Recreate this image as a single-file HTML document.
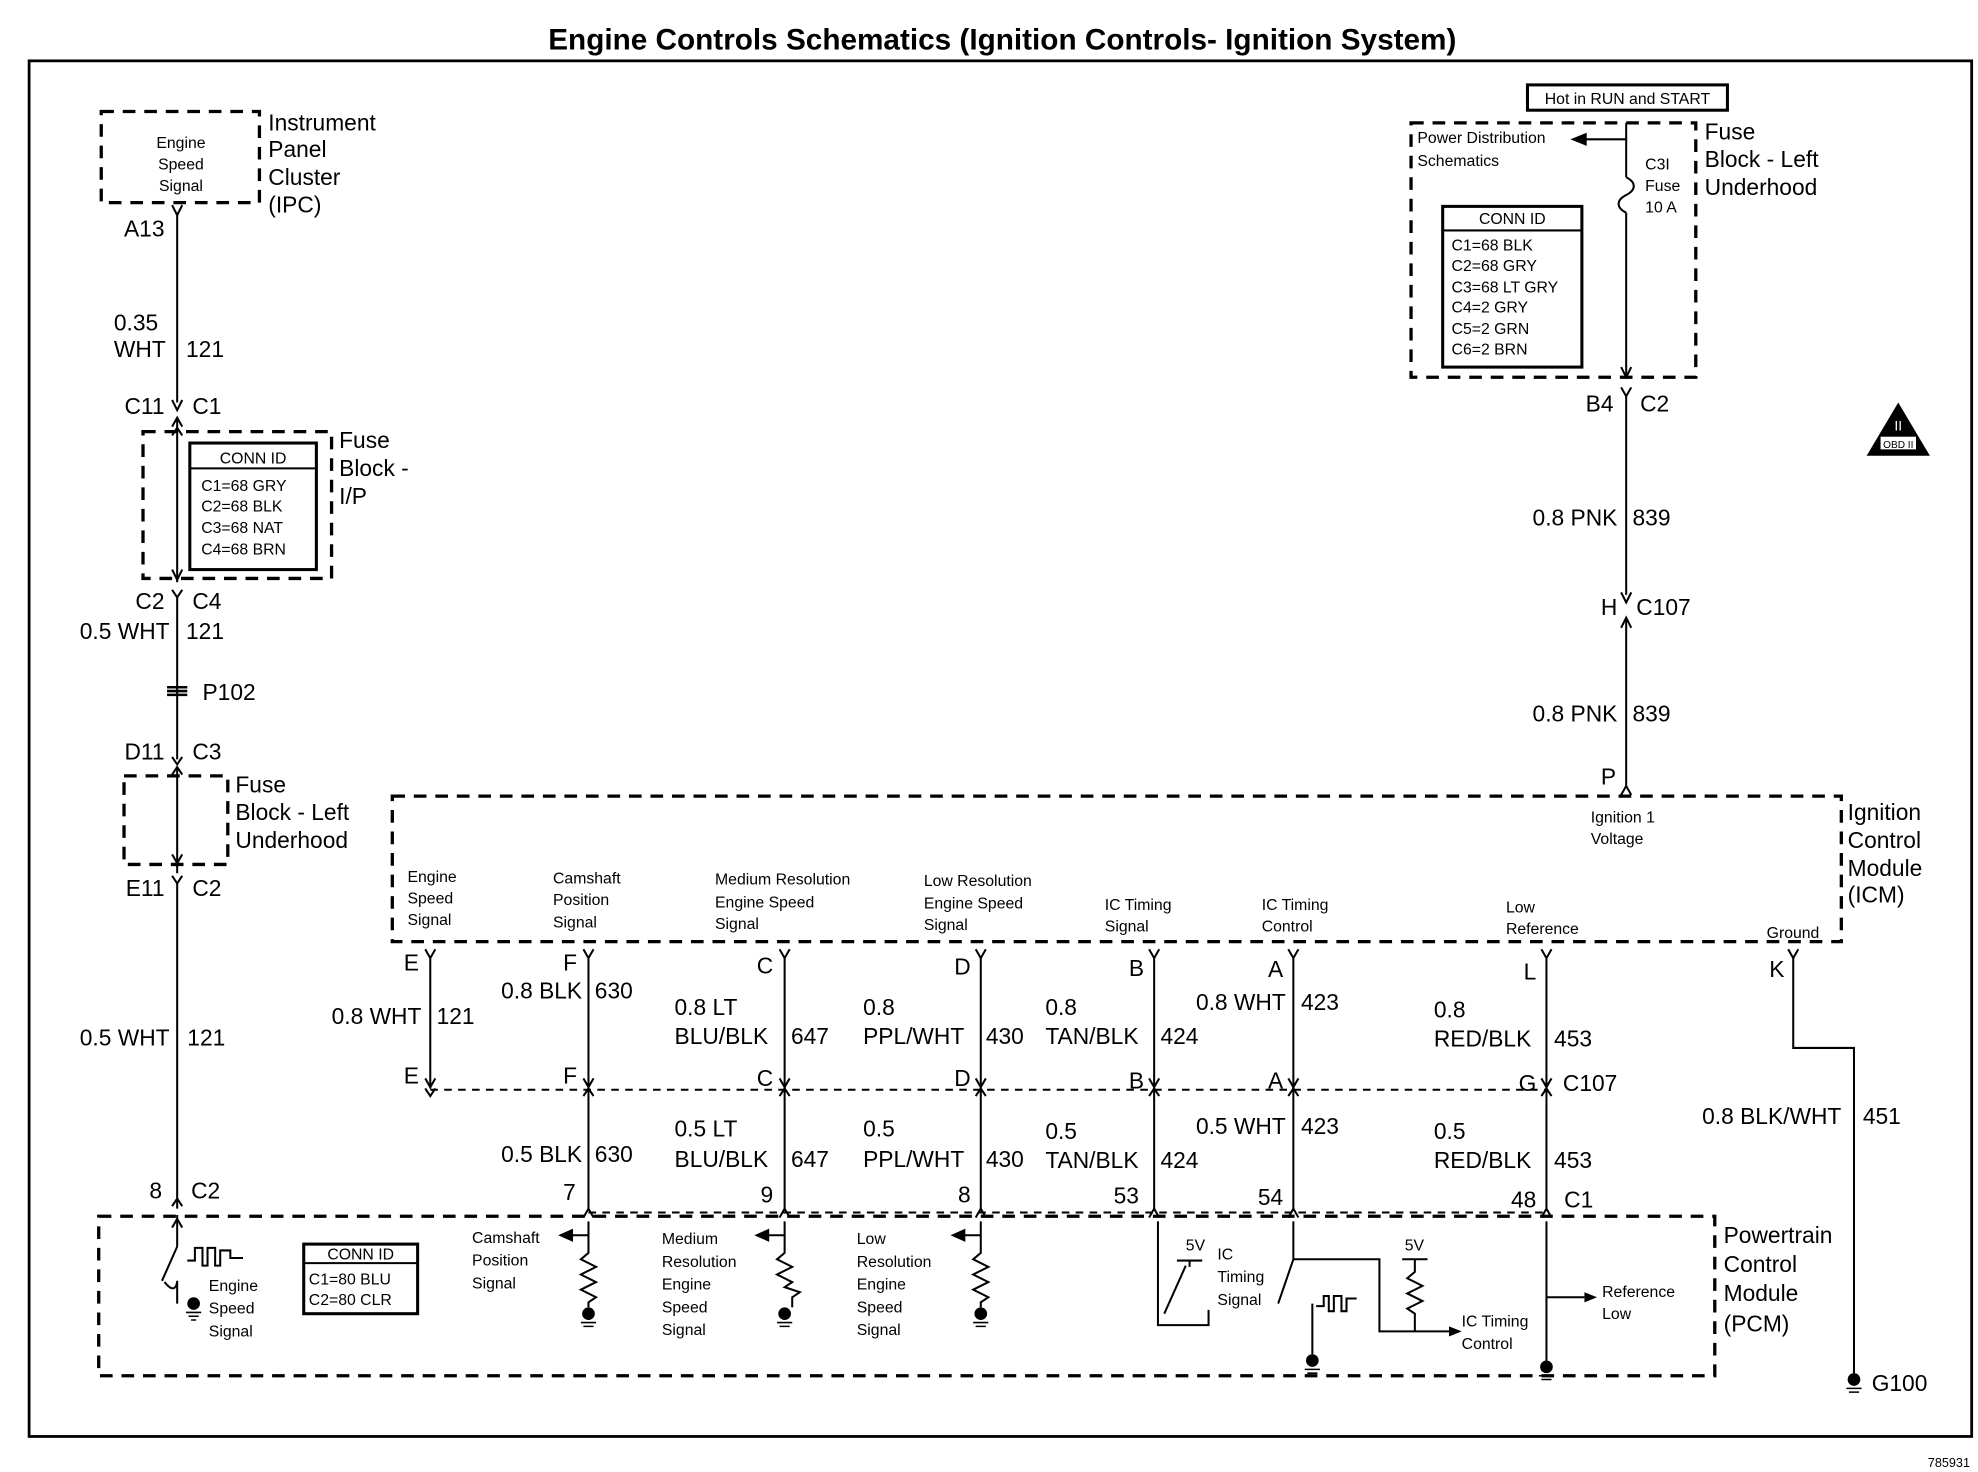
<!DOCTYPE html>
<html><head><meta charset="utf-8"><style>
html,body{margin:0;padding:0;background:#fff;}
svg{display:block}
text{font-family:"Liberation Sans",Arial,sans-serif;fill:#000;}
.L{font-size:18px;}
.S{font-size:12.5px;}
.T{font-size:23.5px;font-weight:bold;}
.r{text-anchor:end}
.m{text-anchor:middle}
</style></head><body>
<svg width="1978" height="1472" viewBox="0 0 1563 1163" xmlns="http://www.w3.org/2000/svg">
<g fill="none" stroke="#000" stroke-width="1.6">
<rect x="23" y="48" width="1535" height="1087" stroke-width="2.2"/>
<g stroke-dasharray="10 7" stroke-width="2.6">
<rect x="80" y="88" width="125" height="72"/>
<rect x="113" y="341" width="149" height="116"/>
<rect x="98" y="613" width="82" height="70"/>
<rect x="1115" y="97" width="225" height="201"/>
<rect x="310" y="629" width="1145" height="115"/>
<rect x="78" y="961" width="1277" height="126"/>
</g>
<g stroke-dasharray="6 5" stroke-width="1.6">
<line x1="340" y1="861" x2="1222" y2="861"/>
<line x1="465" y1="958" x2="1222" y2="958"/>
</g>
<rect x="150" y="350" width="100" height="100" stroke-width="2.4"/>
<line x1="150" y1="370" x2="250" y2="370"/>
<rect x="1140" y="163" width="110" height="127" stroke-width="2.4"/>
<line x1="1140" y1="182" x2="1250" y2="182"/>
<rect x="240" y="983" width="90" height="55" stroke-width="2.4"/>
<line x1="240" y1="998" x2="330" y2="998"/>
<rect x="1207" y="67" width="158" height="20" stroke-width="2.4"/>
<line x1="140" y1="168" x2="140" y2="318"/>
<path d="M136 162 L140 170 L144 162 M136 316 L140 324 L144 316 M136 337 L140 330 L144 337"/>
<line x1="140" y1="332" x2="140" y2="460"/>
<path d="M136 344 L140 338 L144 344 M136 450 L140 458 L144 450 M136 466 L140 472 L144 466"/>
<line x1="140" y1="472" x2="140" y2="600"/>
<path d="M132 543 h16 M132 546 h16 M132 549 h16" stroke-width="2"/>
<path d="M136 598 L140 604 L144 598 M136 612 L140 606 L144 612"/>
<line x1="140" y1="606" x2="140" y2="690"/>
<path d="M136 675 L140 682 L144 675 M136 692 L140 698 L144 692"/>
<line x1="140" y1="698" x2="140" y2="955"/>
<path d="M136 953 L140 947 L144 953"/>
<line x1="140" y1="960" x2="140" y2="985"/>
<path d="M136 970 L140 963 L144 970"/>
<line x1="1285" y1="97" x2="1285" y2="140"/>
<line x1="1285" y1="110" x2="1250" y2="110"/>
<path d="M1243 110 l10 -4 v8 z" fill="#000"/>
<path d="M1285 140 c8 4 8 10 0 14 c-8 4 -8 10 0 14"/>
<line x1="1285" y1="168" x2="1285" y2="298"/>
<path d="M1281 290 L1285 298 L1289 290 M1281 306 L1285 313 L1289 306"/>
<line x1="1285" y1="313" x2="1285" y2="470"/>
<path d="M1281 468 L1285 476 L1289 468 M1281 496 L1285 488 L1289 496"/>
<line x1="1285" y1="488" x2="1285" y2="622"/>
<path d="M1281 628 L1285 621 L1289 628"/>
<g>
<path d="M336 750 L340 757 L344 750 M461 750 L465 757 L469 750 M616 750 L620 757 L624 750 M771 750 L775 757 L779 750 M908 750 L912 757 L916 750 M1018 750 L1022 757 L1026 750 M1218 750 L1222 757 L1226 750 M1413 750 L1417 757 L1421 750"/>
<line x1="340" y1="757" x2="340" y2="860"/>
<line x1="465" y1="757" x2="465" y2="955"/>
<line x1="620" y1="757" x2="620" y2="955"/>
<line x1="775" y1="757" x2="775" y2="955"/>
<line x1="912" y1="757" x2="912" y2="955"/>
<line x1="1022" y1="757" x2="1022" y2="955"/>
<line x1="1222" y1="757" x2="1222" y2="955"/>
<path d="M1417 757 V828 H1465 V1085"/>
<path d="M336 852 L340 859 L344 852 M461 852 L465 859 L469 852 M616 852 L620 859 L624 852 M771 852 L775 859 L779 852 M908 852 L912 859 L916 852 M1018 852 L1022 859 L1026 852 M1218 852 L1222 859 L1226 852"/>
<path d="M336 860 L340 866 L344 860 M461 866 L465 860 L469 866 M616 866 L620 860 L624 866 M771 866 L775 860 L779 866 M908 866 L912 860 L916 866 M1018 866 L1022 860 L1026 866 M1218 866 L1222 860 L1226 866"/>
<path d="M461 962 L465 955 L469 962 M616 962 L620 955 L624 962 M771 962 L775 955 L779 962 M908 962 L912 955 L916 962 M1018 962 L1022 955 L1026 962 M1218 962 L1222 955 L1226 962"/>
</g>
<path d="M465 965 V990 l-6 5 l12 6 l-12 6 l12 6 l-12 6 l12 6 l-6 4 V1033"/>
<path d="M620 965 V990 l-6 5 l12 6 l-12 6 l12 6 l-6 4 l12 4 l-6 4 V1033"/>
<path d="M775 965 V990 l-6 5 l12 6 l-12 6 l12 6 l-12 6 l12 6 l-6 4 V1033"/>
<line x1="465" y1="976" x2="450" y2="976"/><path d="M443 976 l9 -4 v8z" fill="#000"/>
<line x1="620" y1="976" x2="605" y2="976"/><path d="M598 976 l9 -4 v8z" fill="#000"/>
<line x1="775" y1="976" x2="760" y2="976"/><path d="M753 976 l9 -4 v8z" fill="#000"/>
<path d="M140 985 L128 1012 M140 1012 V1030 M130 1013 q8 10 10 0" />
<path d="M148 996 h6 v-10 h6 v14 h4 v-14 h6 v14 h4 v-12 h8 v6 h10"/>
<path d="M915 965 V1047 H955 V1035 M920 1038 L937 1000 M930 996 h20 M940 996 v5"/>
<path d="M1022 965 V995 L1010 1030 M1022 995 H1090 V1052 H1145 M1118 995 v10 l-6 5 l12 6 l-12 6 l12 6 l-12 6 l6 4 v14 M1108 995 h20 M1037 1030 v40 M1040 1032 h6 v-8 h4 v12 h4 v-12 h6 v12 h4 v-10 h8"/>
<path d="M1222 965 V1075 M1222 1025 H1252"/>
</g>
<g fill="#000">
<path d="M1145 1048 l10 4 l-10 4z"/><path d="M1252 1021 l10 4 l-10 4z"/>
<circle cx="153" cy="1030" r="5"/><circle cx="465" cy="1038" r="5"/><circle cx="620" cy="1038" r="5"/><circle cx="775" cy="1038" r="5"/>
<circle cx="1037" cy="1075" r="5"/><circle cx="1222" cy="1080" r="5"/><circle cx="1465" cy="1090" r="5"/>
<path d="M1475 360 L1500 318 L1525 360 Z"/>
</g>
<g stroke="#000" stroke-width="1.2">
<path d="M147 1037 h12 M149 1040 h8 M151 1043 h4 M459 1045 h12 M461 1048 h8 M614 1045 h12 M616 1048 h8 M769 1045 h12 M771 1048 h8 M1031 1082 h12 M1033 1085 h8 M1216 1087 h12 M1218 1090 h8 M1459 1097 h12 M1461 1100 h8"/>
</g>
<rect x="1486" y="345" width="28" height="10" fill="#fff"/>
<text x="1500" y="354" class="m" style="font-size:8px">OBD II</text>
<text x="1500" y="340" class="m" style="font-size:11px;fill:#fff">II</text>

<text x="792" y="39" class="T m">Engine Controls Schematics (Ignition Controls- Ignition System)</text>
<text x="1540" y="1159" style="font-size:10px" class="m">785931</text>
<g class="S m"><text x="143" y="117">Engine</text><text x="143" y="134">Speed</text><text x="143" y="151">Signal</text></g>
<g class="L"><text x="212" y="103">Instrument</text><text x="212" y="124">Panel</text><text x="212" y="146">Cluster</text><text x="212" y="168">(IPC)</text>
<text x="130" y="187" class="r">A13</text>
<text x="90" y="261">0.35</text><text x="90" y="282">WHT</text><text x="147" y="282">121</text>
<text x="130" y="327" class="r">C11</text><text x="152" y="327">C1</text>
<text x="268" y="354">Fuse</text><text x="268" y="376">Block -</text><text x="268" y="398">I/P</text>
<text x="130" y="481" class="r">C2</text><text x="152" y="481">C4</text>
<text x="134" y="505" class="r">0.5 WHT</text><text x="147" y="505">121</text>
<text x="160" y="553">P102</text>
<text x="130" y="600" class="r">D11</text><text x="152" y="600">C3</text>
<text x="186" y="626">Fuse</text><text x="186" y="648">Block - Left</text><text x="186" y="670">Underhood</text>
<text x="130" y="708" class="r">E11</text><text x="152" y="708">C2</text>
<text x="134" y="826" class="r">0.5 WHT</text><text x="148" y="826">121</text>
<text x="128" y="947" class="r">8</text><text x="151" y="947">C2</text>
<text x="1362" y="982">Powertrain</text><text x="1362" y="1005">Control</text><text x="1362" y="1028">Module</text><text x="1362" y="1052">(PCM)</text>
<text x="1460" y="648">Ignition</text><text x="1460" y="670">Control</text><text x="1460" y="692">Module</text><text x="1460" y="713">(ICM)</text>
<text x="1347" y="110">Fuse</text><text x="1347" y="132">Block - Left</text><text x="1347" y="154">Underhood</text>
<text x="1275" y="325" class="r">B4</text><text x="1296" y="325">C2</text>
<text x="1278" y="415" class="r">0.8 PNK</text><text x="1290" y="415">839</text>
<text x="1278" y="486" class="r">H</text><text x="1293" y="486">C107</text>
<text x="1278" y="570" class="r">0.8 PNK</text><text x="1290" y="570">839</text>
<text x="1277" y="620" class="r">P</text>
<text x="331" y="767" class="r">E</text><text x="333" y="809" class="r">0.8 WHT</text><text x="345" y="809">121</text><text x="331" y="856" class="r">E</text>
<text x="456" y="767" class="r">F</text><text x="460" y="789" class="r">0.8 BLK</text><text x="470" y="789">630</text><text x="456" y="856" class="r">F</text>
<text x="460" y="918" class="r">0.5 BLK</text><text x="470" y="918">630</text><text x="455" y="948" class="r">7</text>
<text x="611" y="769" class="r">C</text><text x="533" y="802">0.8 LT</text><text x="533" y="825">BLU/BLK</text><text x="625" y="825">647</text><text x="611" y="858" class="r">C</text>
<text x="533" y="898">0.5 LT</text><text x="533" y="922">BLU/BLK</text><text x="625" y="922">647</text><text x="611" y="950" class="r">9</text>
<text x="767" y="770" class="r">D</text><text x="682" y="802">0.8</text><text x="682" y="825">PPL/WHT</text><text x="779" y="825">430</text><text x="767" y="858" class="r">D</text>
<text x="682" y="898">0.5</text><text x="682" y="922">PPL/WHT</text><text x="779" y="922">430</text><text x="767" y="950" class="r">8</text>
<text x="904" y="771" class="r">B</text><text x="826" y="802">0.8</text><text x="826" y="825">TAN/BLK</text><text x="917" y="825">424</text><text x="904" y="860" class="r">B</text>
<text x="826" y="900">0.5</text><text x="826" y="923">TAN/BLK</text><text x="917" y="923">424</text><text x="900" y="951" class="r">53</text>
<text x="1014" y="772" class="r">A</text><text x="1016" y="798" class="r">0.8 WHT</text><text x="1028" y="798">423</text><text x="1014" y="860" class="r">A</text>
<text x="1016" y="896" class="r">0.5 WHT</text><text x="1028" y="896">423</text><text x="1014" y="952" class="r">54</text>
<text x="1214" y="774" class="r">L</text><text x="1133" y="804">0.8</text><text x="1133" y="827">RED/BLK</text><text x="1228" y="827">453</text><text x="1214" y="862" class="r">G</text><text x="1235" y="862">C107</text>
<text x="1133" y="900">0.5</text><text x="1133" y="923">RED/BLK</text><text x="1228" y="923">453</text><text x="1214" y="954" class="r">48</text><text x="1236" y="954">C1</text>
<text x="1410" y="772" class="r">K</text><text x="1455" y="888" class="r">0.8 BLK/WHT</text><text x="1472" y="888">451</text>
<text x="1479" y="1099">G100</text>
</g>
<g class="S">
<text x="200" y="366" class="m">CONN ID</text>
<text x="159" y="388">C1=68 GRY</text><text x="159" y="404">C2=68 BLK</text><text x="159" y="421">C3=68 NAT</text><text x="159" y="438">C4=68 BRN</text>
<text x="1195" y="177" class="m">CONN ID</text>
<text x="1147" y="198">C1=68 BLK</text><text x="1147" y="214">C2=68 GRY</text><text x="1147" y="231">C3=68 LT GRY</text><text x="1147" y="247">C4=2 GRY</text><text x="1147" y="264">C5=2 GRN</text><text x="1147" y="280">C6=2 BRN</text>
<text x="1286" y="82" class="m">Hot in RUN and START</text>
<text x="1120" y="113">Power Distribution</text><text x="1120" y="131">Schematics</text>
<text x="1300" y="134">C3I</text><text x="1300" y="151">Fuse</text><text x="1300" y="168">10 A</text>
<text x="322" y="697">Engine</text><text x="322" y="714">Speed</text><text x="322" y="731">Signal</text>
<text x="437" y="698">Camshaft</text><text x="437" y="715">Position</text><text x="437" y="733">Signal</text>
<text x="565" y="699">Medium Resolution</text><text x="565" y="717">Engine Speed</text><text x="565" y="734">Signal</text>
<text x="730" y="700">Low Resolution</text><text x="730" y="718">Engine Speed</text><text x="730" y="735">Signal</text>
<text x="873" y="719">IC Timing</text><text x="873" y="736">Signal</text>
<text x="997" y="719">IC Timing</text><text x="997" y="736">Control</text>
<text x="1190" y="721">Low</text><text x="1190" y="738">Reference</text>
<text x="1396" y="741">Ground</text>
<text x="1257" y="650">Ignition 1</text><text x="1257" y="667">Voltage</text>
<text x="165" y="1020">Engine</text><text x="165" y="1038">Speed</text><text x="165" y="1056">Signal</text>
<text x="285" y="995" class="m">CONN ID</text><text x="244" y="1015">C1=80 BLU</text><text x="244" y="1031">C2=80 CLR</text>
<text x="373" y="982">Camshaft</text><text x="373" y="1000">Position</text><text x="373" y="1018">Signal</text>
<text x="523" y="983">Medium</text><text x="523" y="1001">Resolution</text><text x="523" y="1019">Engine</text><text x="523" y="1037">Speed</text><text x="523" y="1055">Signal</text>
<text x="677" y="983">Low</text><text x="677" y="1001">Resolution</text><text x="677" y="1019">Engine</text><text x="677" y="1037">Speed</text><text x="677" y="1055">Signal</text>
<text x="937" y="988">5V</text><text x="962" y="995">IC</text><text x="962" y="1013">Timing</text><text x="962" y="1031">Signal</text>
<text x="1110" y="988">5V</text>
<text x="1155" y="1048">IC Timing</text><text x="1155" y="1066">Control</text>
<text x="1266" y="1025">Reference</text><text x="1266" y="1042">Low</text>
</g>
</svg>
</body></html>
